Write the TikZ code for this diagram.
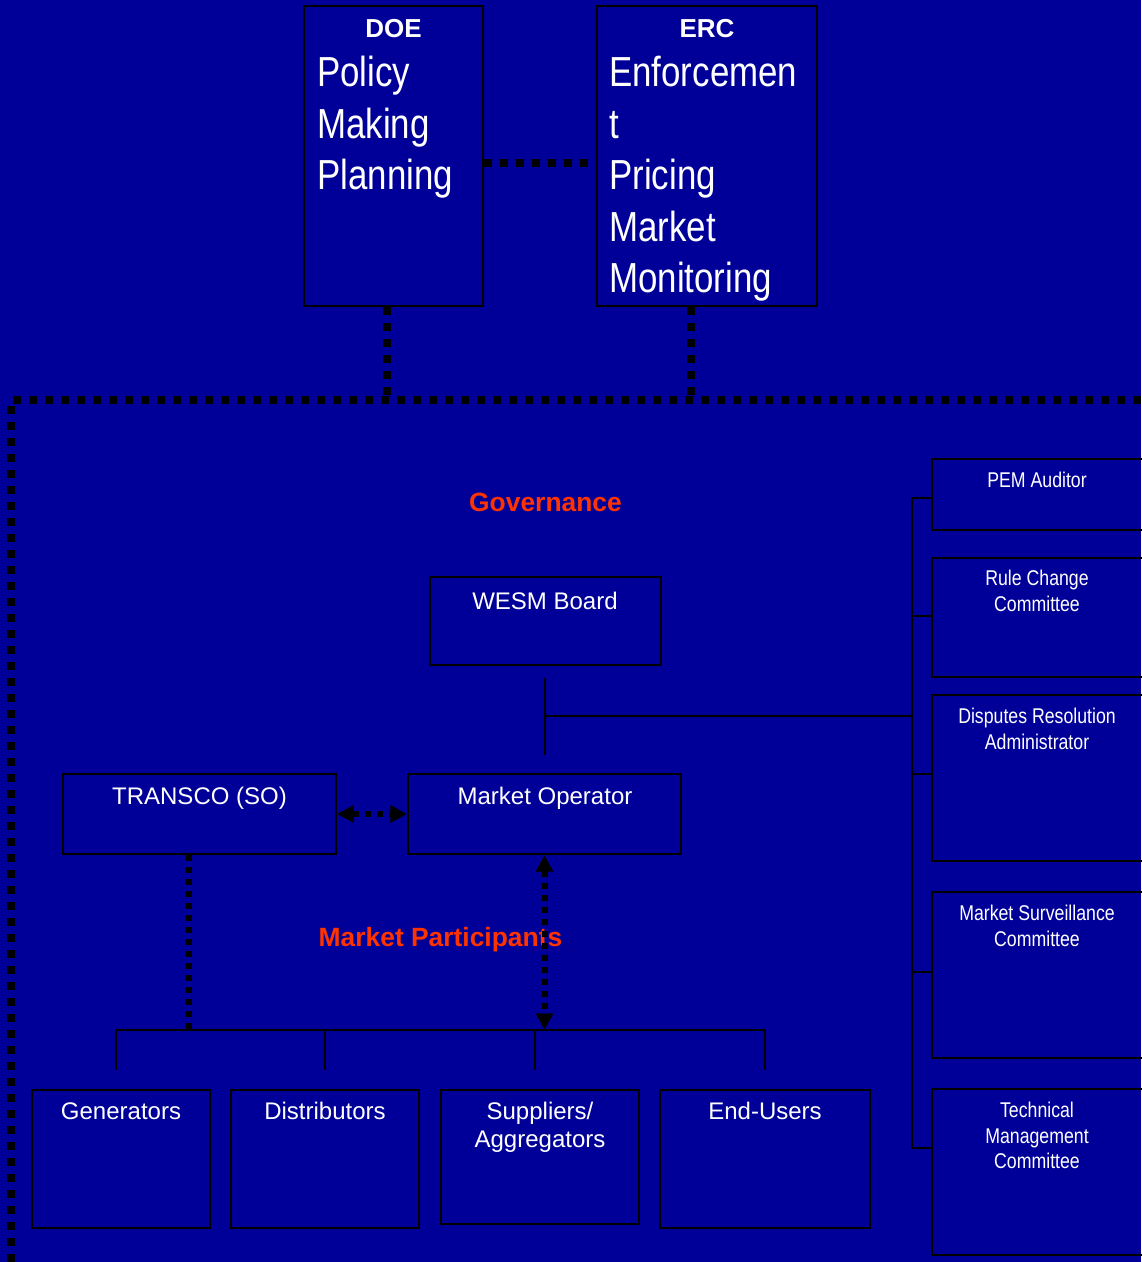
\documentclass[tikz,border=0pt]{standalone}
\usepackage{fontspec}
\setmainfont{Liberation Sans}
\newfontfamily\narrowfont{Liberation Sans}[FakeStretch=0.83]
\usepackage{tikz}
\usetikzlibrary{arrows.meta,fit,calc}
\definecolor{bgblue}{RGB}{0,0,153}
\definecolor{headred}{RGB}{255,51,0}

\tikzset{
  box/.style={draw=black, line width=1.5pt, inner sep=0pt},
  link/.style={draw=black, line width=1.5pt},
  bigdots/.style={draw=black, line width=6pt, dash pattern=on 6pt off 6pt},
  smalldots/.style={draw=black, line width=4.5pt, dash pattern=on 4.5pt off 4.5pt},
  twoway/.style={smalldots, {Triangle[length=12.5pt,width=12.5pt]}-{Triangle[length=12.5pt,width=12.5pt]}},
  headtext/.style={text=white, inner sep=0pt, anchor=north, font=\bfseries\fontsize{19.5}{23}\selectfont},
  bodytext/.style={text=white, inner sep=0pt, anchor=north west, align=left, font=\narrowfont\fontsize{31.5}{38.6}\selectfont},
  boxtext/.style={text=white, inner sep=0pt, anchor=north, align=center, font=\fontsize{18}{21}\selectfont},
  sidetext/.style={text=white, inner sep=0pt, anchor=north, align=center, font=\narrowfont\fontsize{16}{19}\selectfont},
  redtext/.style={text=headred, inner sep=0pt, anchor=north, font=\bfseries\fontsize{19.8}{23}\selectfont}
}

\begin{document}
\begin{tikzpicture}[x=0.75pt,y=0.75pt,yscale=-1,xscale=1]
\useasboundingbox (0,0) rectangle (1141,1262);
\fill[bgblue] (0,0) rectangle (1141,1262);

% DOE and ERC
\node[box, fit={(304,6) (483,306)}] (doe) {};
\node[box, fit={(597,6) (817,306)}] (erc) {};
\node[headtext] (doehead) at (393.5,19.5) {DOE};
\node[bodytext] (doebody) at (317,56) {Policy\\Making\\Planning};
\node[headtext] (erchead) at (707,19.5) {ERC};
\node[bodytext] (ercbody) at (609,56) {Enforcemen\\t\\Pricing\\Market\\Monitoring};

% dotted links from the regulators
\coordinate (link) at (0,163);
\coordinate (doeleg) at (387,400);
\coordinate (ercleg) at (691,400);
\draw[bigdots] (doe.east |- link) -- (erc.west |- link);
\draw[bigdots] (doeleg |- doe.south) -- (doeleg);
\draw[bigdots] (ercleg |- erc.south) -- (ercleg);
\draw[bigdots] (11,1262) -- (11,400) -- (1145,400);

% Text Node
\node[redtext] (govlabel) at (545.5,493) {Governance};

% Board and operators
\node[box, fit={(430,577) (661,665)}] (wesm) {};
\node[boxtext] (wesmtext) at (545,592) {WESM Board};
\node[box, fit={(63,774) (336,854)}] (transco) {};
\node[boxtext] (transcotext) at (199.5,787) {TRANSCO (SO)};
\node[box, fit={(408,774) (681,854)}] (mo) {};
\node[boxtext] (motext) at (545,787) {Market Operator};

% committees on the right
\node[box, fit={(932,459) (1144,530)}] (pem) {};
\node[sidetext] (pemtext) at (1037,472) {PEM Auditor};
\node[box, fit={(932,558) (1144,677)}] (rcc) {};
\node[sidetext] (rcctext) at (1037,570) {Rule Change\\Committee};
\node[box, fit={(932,695) (1144,861)}] (dra) {};
\node[sidetext] (dratext) at (1037,708) {Disputes Resolution\\Administrator};
\node[box, fit={(932,892) (1144,1058)}] (msc) {};
\node[sidetext] (msctext) at (1037,905) {Market Surveillance\\Committee};
\node[box, fit={(932,1089) (1144,1255)}] (tmc) {};
\node[sidetext] (tmctext) at (1037,1102) {Technical\\Management\\Committee};

% Text Node
\node[redtext] (mplabel) at (440.5,927) {Market Participants};

% participants
\node[box, fit={(32,1090) (210,1228)}] (gen) {};
\node[boxtext] (gentext) at (121,1102) {Generators};
\node[box, fit={(231,1090) (419,1228)}] (dist) {};
\node[boxtext] (disttext) at (325,1102) {Distributors};
\node[box, fit={(441,1090) (639,1224)}] (supp) {};
\node[boxtext] (supptext) at (540,1102) {Suppliers/\\Aggregators};
\node[box, fit={(660,1090) (870,1228)}] (endu) {};
\node[boxtext] (endutext) at (765,1102) {End-Users};

% board to committees
\coordinate (boardtap) at (545,678);
\coordinate (opstap) at (545,755);
\coordinate (boardmid) at (545,716);
\coordinate (bustop) at (912,498);
\coordinate (busend) at (912,1148);
\draw[link] (boardtap) -- (opstap);
\draw[link] (boardmid) -- (boardmid -| bustop);
\draw[link] (bustop) -- (busend);
\foreach \b/\y in {pem/498, rcc/616, dra/774, msc/972, tmc/1148}
  \draw[link] (912,\y) coordinate (tick) -- (tick -| \b.west);

% participants bus
\coordinate (busleft) at (116,1030);
\coordinate (busright) at (765,1030);
\draw[link] (busleft) -- (busright);
\foreach \x in {116,325,535,765}
  \draw[link] (\x,1030) -- (\x,1070);
\coordinate (soleg) at (189,1030);
\draw[smalldots] (soleg |- transco.south) -- (soleg);
\draw[twoway] (transco.east) -- (mo.west);
\draw[twoway] (mo.south) -- (mo.south |- busleft);

\end{tikzpicture}
\end{document}
